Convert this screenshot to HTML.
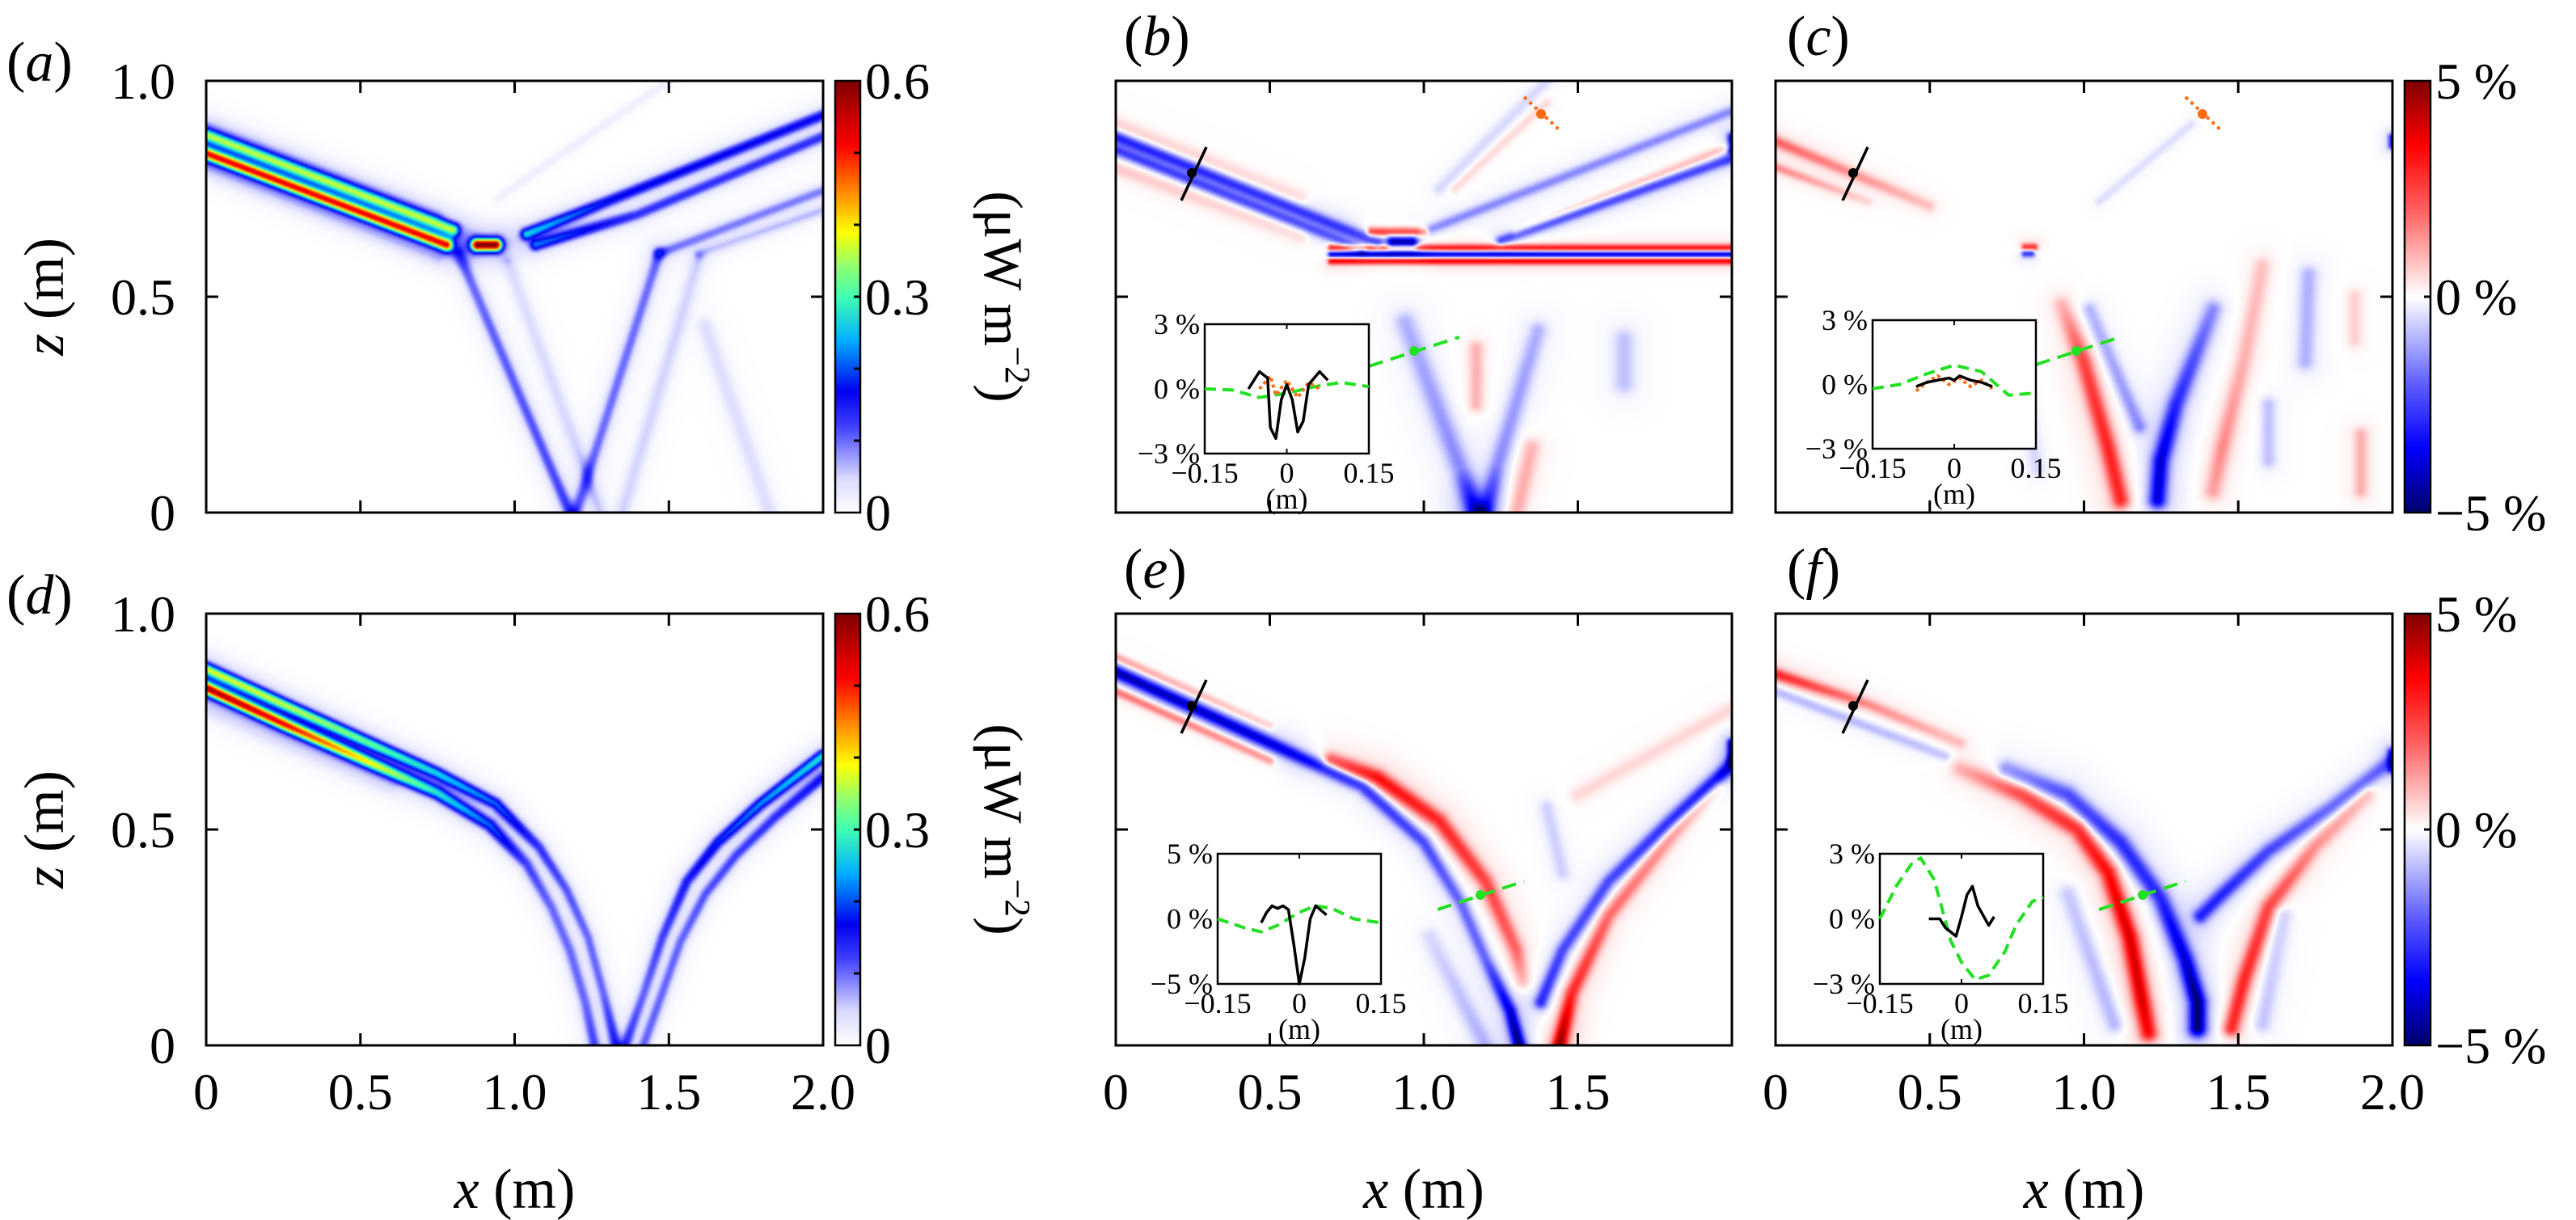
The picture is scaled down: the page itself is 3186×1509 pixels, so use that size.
<!DOCTYPE html>
<html><head><meta charset="utf-8">
<style>
html,body{margin:0;padding:0;background:#fff;}
#root{position:relative;width:3186px;height:1509px;overflow:hidden;background:#fff;}
canvas{position:absolute;}
svg{position:absolute;left:0;top:0;}
text{font-family:"Liberation Serif",serif;fill:#000;}
</style></head>
<body>
<div id="root">
<canvas id="cv-a"></canvas>
<canvas id="cv-b"></canvas>
<canvas id="cv-c"></canvas>
<canvas id="cv-d"></canvas>
<canvas id="cv-e"></canvas>
<canvas id="cv-f"></canvas>
<svg id="ov" width="3186" height="1509" xmlns="http://www.w3.org/2000/svg">
<defs>
<linearGradient id="gJet" x1="0" y1="1" x2="0" y2="0">
<stop offset="0" stop-color="#ffffff"/><stop offset="0.08" stop-color="#d8d8ff"/><stop offset="0.2" stop-color="#4040ff"/><stop offset="0.28" stop-color="#0000f0"/><stop offset="0.4" stop-color="#00b0ff"/><stop offset="0.5" stop-color="#40ffb0"/><stop offset="0.57" stop-color="#90ff70"/><stop offset="0.65" stop-color="#ffff00"/><stop offset="0.75" stop-color="#ff8000"/><stop offset="0.85" stop-color="#ff0000"/><stop offset="1" stop-color="#800000"/>
</linearGradient>
<linearGradient id="gDiv" x1="0" y1="1" x2="0" y2="0">
<stop offset="0" stop-color="#00006a"/><stop offset="0.15" stop-color="#0000ff"/><stop offset="0.3" stop-color="#6060ff"/><stop offset="0.45" stop-color="#d8d8ff"/><stop offset="0.5" stop-color="#ffffff"/><stop offset="0.55" stop-color="#ffd8d8"/><stop offset="0.7" stop-color="#ff6060"/><stop offset="0.85" stop-color="#ff0000"/><stop offset="1" stop-color="#800000"/>
</linearGradient>
</defs>
<g id="static"></g>
</svg>
</div>
<script>
// ---------- data: beam paths [x (m), z (m), value] ----------
const beamsA = [
 {w:11, p:[[0,0.875,0.33],[0.8,0.655,0.33]]},
 {w:11, p:[[0,0.832,0.5],[0.78,0.62,0.5]]},
 {w:12, p:[[0,0.90,0.03],[0.75,0.69,0.03]]},
 {w:12, p:[[0,0.80,0.03],[0.75,0.59,0.03]]},
 {w:11, p:[[0.88,0.62,0.6],[0.94,0.62,0.6]]},
 {w:10, p:[[1.04,0.645,0.25],[1.3,0.72,0.17],[2.0,0.92,0.16]]},
 {w:10, p:[[1.07,0.62,0.2],[1.4,0.69,0.13],[2.0,0.87,0.13]]},
 {w:10, p:[[1.47,0.60,0.09],[2.0,0.745,0.09]]},
 {w:9, p:[[1.6,0.60,0.05],[2.0,0.70,0.06]]},
 {w:11, p:[[0.82,0.6,0.1],[1.18,0.0,0.12]]},
 {w:12, p:[[0.98,0.58,0.04],[1.28,0.0,0.05]]},
 {w:11, p:[[1.47,0.6,0.1],[1.2,0.0,0.1]]},
 {w:12, p:[[1.6,0.59,0.05],[1.35,0.0,0.05]]},
 {w:14, p:[[1.62,0.43,0.04],[1.83,0.0,0.04]]},
 {w:8, p:[[0.95,0.73,0.02],[1.5,1.0,0.02]]}
];
const beamsD = [
 {w:10, p:[[0,0.872,0.35],[0.25,0.79,0.34],[0.53,0.70,0.3],[0.75,0.63,0.25],[0.94,0.56,0.2],[1.08,0.46,0.13],[1.17,0.36,0.11],[1.24,0.25,0.1],[1.29,0.12,0.1],[1.33,0.0,0.14]]},
 {w:11, p:[[0,0.828,0.55],[0.25,0.745,0.5],[0.53,0.655,0.38],[0.75,0.585,0.27],[0.92,0.51,0.2],[1.04,0.42,0.12],[1.12,0.32,0.1],[1.18,0.22,0.1],[1.23,0.1,0.1],[1.26,0.0,0.12]]},
 {w:10, p:[[1.36,0.0,0.12],[1.42,0.12,0.1],[1.48,0.25,0.12],[1.56,0.38,0.15],[1.66,0.47,0.18],[1.8,0.56,0.22],[2.0,0.67,0.27]]},
 {w:10, p:[[1.42,0.0,0.1],[1.48,0.12,0.1],[1.54,0.24,0.1],[1.62,0.35,0.11],[1.72,0.44,0.12],[1.85,0.53,0.13],[2.0,0.62,0.15]]},
 {w:14, p:[[0,0.78,0.02],[0.6,0.6,0.02]]}
];
const beamsB = [
 {w:8, p:[[0,0.87,-3],[0.85,0.625,-2.5]]},
 {w:7, p:[[0,0.84,-2.5],[0.8,0.61,-2]]},
 {w:10, p:[[0,0.9,0.8],[0.6,0.73,0.6]]},
 {w:10, p:[[0,0.8,0.8],[0.6,0.64,0.6]]},
 {w:5, p:[[0.7,0.613,3.5],[2.0,0.613,3.5]]},
 {w:5, p:[[0.7,0.598,-4.5],[2.0,0.598,-4.5]]},
 {w:5, p:[[0.7,0.583,4],[2.0,0.583,4]]},
 {w:9, p:[[0.9,0.625,-5],[0.96,0.625,-5]]},
 {w:6, p:[[0.83,0.65,3],[1.0,0.65,3]]},
 {w:7, p:[[1.0,0.65,-1.5],[2.0,0.93,-1.5]]},
 {w:7, p:[[1.25,0.63,-2.5],[2.0,0.82,-2.5]]},
 {w:6, p:[[1.3,0.65,1],[2.0,0.85,1]]},
 {w:6, p:[[2.0,0.87,-4],[2.0,0.84,-4]]},
 {w:14, p:[[0.94,0.44,-1],[1.12,0.1,-1.5],[1.17,0.0,-4]]},
 {w:12, p:[[1.37,0.42,-1],[1.24,0.11,-1.5],[1.2,0.0,-3]]},
 {w:10, p:[[1.17,0.38,1],[1.17,0.25,1]]},
 {w:12, p:[[1.35,0.15,1],[1.3,0.0,1.2]]},
 {w:14, p:[[1.65,0.4,-0.8],[1.65,0.3,-0.8]]},
 {w:8, p:[[1.05,0.75,-0.5],[1.4,1.0,-0.5]]},
 {w:6, p:[[1.1,0.75,0.5],[1.4,0.95,0.5]]}
];
const beamsC = [
 {w:8, p:[[0,0.86,2],[0.5,0.71,0.8]]},
 {w:6, p:[[0,0.8,1.5],[0.3,0.72,0.5]]},
 {w:5, p:[[0.81,0.6,-3],[0.83,0.6,-3]]},
 {w:5, p:[[0.81,0.615,3],[0.84,0.615,3]]},
 {w:12, p:[[0.93,0.48,1],[1.0,0.35,2.5],[1.08,0.15,3],[1.12,0.03,3]]},
 {w:12, p:[[1.42,0.47,-1.5],[1.3,0.25,-3],[1.25,0.12,-4],[1.24,0.03,-4]]},
 {w:10, p:[[1.02,0.47,-1],[1.18,0.2,-1.5]]},
 {w:12, p:[[1.58,0.57,0.8],[1.52,0.35,1],[1.45,0.15,1.5],[1.42,0.05,1.2]]},
 {w:12, p:[[1.73,0.55,-1],[1.72,0.35,-1]]},
 {w:10, p:[[1.6,0.25,-0.8],[1.6,0.12,-0.8]]},
 {w:10, p:[[1.88,0.5,0.6],[1.88,0.4,0.6]]},
 {w:10, p:[[1.9,0.18,1],[1.9,0.05,1]]},
 {w:10, p:[[0.8,0.3,-0.5],[0.85,0.1,-0.5]]},
 {w:5, p:[[2.0,0.87,-3],[2.0,0.85,-3]]},
 {w:6, p:[[1.05,0.72,-0.4],[1.35,0.9,-0.4]]}
];
const beamsE = [
 {w:9, p:[[0,0.865,-4.5],[0.5,0.70,-4],[0.8,0.6,-3],[1.0,0.47,-2.5],[1.12,0.33,-2],[1.2,0.2,-2],[1.28,0.08,-4],[1.31,0.0,-5]]},
 {w:6, p:[[0,0.9,1.5],[0.5,0.74,0.8]]},
 {w:6, p:[[0,0.82,2],[0.5,0.66,1.5]]},
 {w:11, p:[[0.7,0.66,2.5],[0.85,0.62,3.5],[1.05,0.52,3],[1.2,0.38,2.5],[1.3,0.22,2],[1.32,0.15,1]]},
 {w:9, p:[[2.0,0.65,-4],[1.8,0.52,-3],[1.6,0.38,-2.5],[1.45,0.22,-2.5],[1.38,0.1,-3]]},
 {w:10, p:[[1.95,0.6,1],[1.8,0.48,1.5],[1.6,0.3,2],[1.48,0.12,3],[1.44,0.0,5]]},
 {w:12, p:[[1.02,0.25,-0.5],[1.2,0.0,-1]]},
 {w:10, p:[[1.5,0.58,0.5],[2.0,0.78,0.5]]},
 {w:10, p:[[1.4,0.55,-0.6],[1.45,0.4,-0.6]]},
 {w:6, p:[[2.0,0.66,-5],[2.0,0.7,-5]]}
];
const beamsF = [
 {w:8, p:[[0,0.86,3],[0.3,0.79,1.5],[0.6,0.70,0.8]]},
 {w:7, p:[[0,0.82,-1],[0.55,0.67,-0.8]]},
 {w:12, p:[[0.6,0.64,1],[0.8,0.58,2.5],[0.98,0.5,3],[1.08,0.4,3.5],[1.15,0.25,4],[1.19,0.1,4],[1.21,0.03,3.5]]},
 {w:12, p:[[0.75,0.64,-1.5],[0.95,0.58,-2.5],[1.12,0.47,-3],[1.25,0.34,-3],[1.33,0.2,-4],[1.37,0.1,-5],[1.37,0.04,-5]]},
 {w:10, p:[[2.0,0.66,-2],[1.8,0.55,-2],[1.6,0.45,-2.5],[1.45,0.35,-3],[1.38,0.3,-3]]},
 {w:11, p:[[1.92,0.58,1],[1.75,0.46,1.5],[1.6,0.32,2.5],[1.52,0.15,3],[1.48,0.04,3]]},
 {w:12, p:[[0.95,0.35,-0.7],[1.1,0.05,-1]]},
 {w:12, p:[[1.65,0.3,-0.7],[1.58,0.05,-0.8]]},
 {w:6, p:[[2.0,0.68,-3],[2.0,0.64,-3]]}
];
// inset series [offset (m), value (%)]
const insetGreenB = [[-0.15,0],[-0.1,-0.05],[-0.05,-0.4],[0,-0.2],[0.05,0.1],[0.1,0.3],[0.15,0.1]];
const insetBlackB = [[-0.07,0],[-0.05,0.8],[-0.035,0.5],[-0.03,-1.8],[-0.02,-2.3],[-0.01,-0.5],[0,0.2],[0.01,-0.5],[0.02,-2.0],[0.03,-1.5],[0.04,0.2],[0.06,0.8],[0.075,0.4]];
const insetOrangeB = [[-0.05,0],[-0.03,0.6],[-0.02,-0.3],[0,0.4],[0.02,-0.4],[0.04,0.3],[0.06,0]];
const insetGreenC = [[-0.15,-0.2],[-0.1,0],[-0.05,0.5],[0,0.9],[0.05,0.6],[0.1,-0.5],[0.15,-0.4]];
const insetBlackC = [[-0.07,-0.1],[-0.05,0.1],[-0.03,0.2],[-0.01,0.3],[0,0.2],[0.01,0.4],[0.03,0.2],[0.05,0.1],[0.07,-0.1]];
const insetOrangeC = [[-0.07,-0.3],[-0.05,0.1],[-0.03,0.4],[-0.01,0],[0.01,0.3],[0.03,-0.1],[0.05,0.2],[0.07,-0.2]];
const insetGreenE = [[-0.15,0],[-0.1,-0.7],[-0.07,-1.0],[-0.04,-0.5],[0,0.5],[0.03,1.0],[0.06,0.8],[0.1,0],[0.15,-0.3]];
const insetBlackE = [[-0.07,-0.3],[-0.06,0.5],[-0.05,1.0],[-0.04,0.8],[-0.03,1.0],[-0.02,0.7],[-0.01,-2],[0,-5],[0.01,-3],[0.02,0],[0.03,1.0],[0.05,0.3]];
const insetGreenF = [[-0.15,0],[-0.12,1.5],[-0.09,2.6],[-0.075,2.8],[-0.05,1.8],[-0.02,-1],[0,-2],[0.025,-2.8],[0.05,-2.6],[0.08,-1.5],[0.1,-0.3],[0.13,0.8],[0.15,1.0]];
const insetBlackF = [[-0.06,0],[-0.04,0],[-0.03,-0.4],[-0.01,-0.8],[0,0.1],[0.01,1.1],[0.02,1.5],[0.03,0.6],[0.05,-0.3],[0.06,0.1]];
const xTickLabels = ["0","0.5","1.0","1.5","2.0"];
const zTickLabels = ["0","0.5","1.0"];

// ---------- colormaps ----------
const jetStops = [[0,[255,255,255]],[0.08,[216,216,255]],[0.2,[64,64,255]],[0.28,[0,0,240]],[0.4,[0,176,255]],[0.5,[64,255,176]],[0.57,[144,255,112]],[0.65,[255,255,0]],[0.75,[255,128,0]],[0.85,[255,0,0]],[1,[128,0,0]]];
const divStops = [[-1,[0,0,106]],[-0.7,[0,0,255]],[-0.4,[96,96,255]],[-0.1,[216,216,255]],[0,[255,255,255]],[0.1,[255,216,216]],[0.4,[255,96,96]],[0.7,[255,0,0]],[1,[128,0,0]]];
function cmap(stops,t){
  if(t<=stops[0][0]) return stops[0][1];
  for(let i=1;i<stops.length;i++){
    if(t<=stops[i][0]){const a=stops[i-1],b=stops[i];const f=(t-a[0])/(b[0]-a[0]);
      return [a[1][0]+(b[1][0]-a[1][0])*f,a[1][1]+(b[1][1]-a[1][1])*f,a[1][2]+(b[1][2]-a[1][2])*f];}
  }
  return stops[stops.length-1][1];
}
function render(id,x0,y0,W,H,beams,stops,vmax,signed,wscale){
  const cv=document.getElementById(id);
  const s=2, cw=Math.ceil(W/s), ch=Math.ceil(H/s);
  cv.width=cw; cv.height=ch;
  cv.style.left=x0+'px'; cv.style.top=y0+'px'; cv.style.width=W+'px'; cv.style.height=H+'px';
  const ctx=cv.getContext('2d'); const img=ctx.createImageData(cw,ch);
  const bs=beams.map(b=>{const w=b.w*wscale/s;return {w2:w*w, h2:9*w*w, p:b.p.map(q=>[q[0]/2*W/s,(1-q[1])*H/s,q[2]])};});
  for(let j=0;j<ch;j++){for(let i=0;i<cw;i++){
    const px=i+0.5, py=j+0.5; let v=0;
    for(const b of bs){
      let best=1e18, bv=0;
      for(let k=0;k<b.p.length-1;k++){
        const A=b.p[k],B=b.p[k+1];const dx=B[0]-A[0],dy=B[1]-A[1];const L=dx*dx+dy*dy;
        let t=L>0?((px-A[0])*dx+(py-A[1])*dy)/L:0; t=t<0?0:t>1?1:t;
        const ex=A[0]+dx*t-px, ey=A[1]+dy*t-py; const d2=ex*ex+ey*ey;
        if(d2<best){best=d2;bv=A[2]+(B[2]-A[2])*t;}
      }
      v+=bv*(0.88*Math.exp(-best/b.w2)+0.12*Math.exp(-best/b.h2));
    }
    let t=v/vmax; if(signed){t=Math.max(-1,Math.min(1,t));}else{t=Math.max(0,Math.min(1,t));}
    const c=cmap(stops,t); const o=(j*cw+i)*4;
    img.data[o]=c[0];img.data[o+1]=c[1];img.data[o+2]=c[2];img.data[o+3]=255;
  }}
  ctx.putImageData(img,0,0);
}
const P={a:[255,100,763,534],b:[1380,100,762,534],c:[2196,100,763,534],d:[255,759,763,534],e:[1380,759,762,534],f:[2196,759,763,534]};
render('cv-a',...P.a,beamsA,jetStops,0.6,false,0.72);
render('cv-d',...P.d,beamsD,jetStops,0.6,false,0.72);
render('cv-b',...P.b,beamsB,divStops,5,true,0.9);
render('cv-c',...P.c,beamsC,divStops,5,true,0.9);
render('cv-e',...P.e,beamsE,divStops,5,true,0.9);
render('cv-f',...P.f,beamsF,divStops,5,true,0.9);

// ---------- SVG overlay ----------
const NS='http://www.w3.org/2000/svg';
const G=document.getElementById('static');
function el(tag,attrs,parent,txt){const e=document.createElementNS(NS,tag);for(const k in attrs)e.setAttribute(k,attrs[k]);if(txt!==undefined)e.textContent=txt;(parent||G).appendChild(e);return e;}
function txt(x,y,s,size,anchor,extra){const t=el('text',Object.assign({x:x,y:y,'font-size':size,'text-anchor':anchor||'middle'},extra||{}),G,s);return t;}

for(const key of ['a','b','c','d','e','f']){
  const [x0,y0,W,H]=P[key];
  const g=el('g',{});
  
  
  const fr=el('rect',{x:x0,y:y0,width:W,height:H,fill:'none',stroke:'#000','stroke-width':3},g);
  
  
  for(const xv of [0.5,1,1.5]){const X=x0+xv/2*W;
    el('line',{x1:X,y1:y0,x2:X,y2:y0+15,stroke:'#000','stroke-width':3},g);
    el('line',{x1:X,y1:y0+H,x2:X,y2:y0+H-15,stroke:'#000','stroke-width':3},g);}
  const Y=y0+H/2;
  el('line',{x1:x0,y1:Y,x2:x0+15,y2:Y,stroke:'#000','stroke-width':3},g);
  el('line',{x1:x0+W,y1:Y,x2:x0+W-15,y2:Y,stroke:'#000','stroke-width':3},g);
}
// panel letters
const letters=[['a',8,100],['b',1390,68],['c',2210,68],['d',8,759],['e',1390,727],['f',2210,727]];
for(const [l,x,y] of letters){
  const t=el('text',{x:x,y:y,'font-size':70},G);
  
  
  el('tspan',{},t,'(');el('tspan',{'font-style':'italic'},t,l);el('tspan',{},t,')');
}
// y ticks labels and titles for a, d
for(const key of ['a','d']){
  const [x0,y0,W,H]=P[key];
  zTickLabels.forEach((s,i)=>{const t=txt(217,y0+H-i*H/2+22,s,64,'end');
    
    });
  const yt=el('text',{x:0,y:0,'font-size':70,'text-anchor':'middle',transform:`translate(78,${y0+H/2}) rotate(-90)`},G);
  
  
  el('tspan',{'font-style':'italic'},yt,'z');el('tspan',{},yt,' (m)');
  const cb=el('rect',{x:1033,y:y0,width:31,height:H,fill:'url(#gJet)',stroke:'#000','stroke-width':2.5},G);
  
  
  for(let k=1;k<6;k++){const yy=y0+H-k*H/6;el('line',{x1:1056,y1:yy,x2:1064,y2:yy,stroke:'#000','stroke-width':3},G);}
  ['0','0.3','0.6'].forEach((s,i)=>{const t=txt(1070,y0+H-i*H/2+22,s,64,'start');
    
    });
  const ct=el('text',{x:0,y:0,'font-size':68,'text-anchor':'middle',transform:`translate(1218,${y0+H/2}) rotate(90)`},G);
  
  
  el('tspan',{},ct,'(\u03bcW m');el('tspan',{'font-size':44,dy:-26},ct,'\u22122');el('tspan',{dy:26},ct,')');
}
// right colorbars
for(const key of ['c','f']){
  const [x0,y0,W,H]=P[key];
  const cb=el('rect',{x:2974,y:y0,width:32,height:H,fill:'url(#gDiv)',stroke:'#000','stroke-width':2.5},G);
  
  
  el('line',{x1:2998,y1:y0+H/2,x2:3006,y2:y0+H/2,stroke:'#000','stroke-width':3},G);
  ['\u22125 %','0 %','5 %'].forEach((s,i)=>{const t=txt(3012,y0+H-i*H/2+22,s,64,'start');
    
    });
}
// x tick labels + titles
for(const key of ['d','e','f']){
  const [x0,y0,W,H]=P[key];
  xTickLabels.forEach((s,i)=>{ if(key==='e'&&i===4) return;
    const t=txt(x0+i*W/4,1372,s,64,'middle');
    
    });
  const xt=el('text',{x:x0+W/2,y:1494,'font-size':70,'text-anchor':'middle'},G);
  
  
  el('tspan',{'font-style':'italic'},xt,'x');el('tspan',{},xt,' (m)');
}
// markers
function markLine(x1,y1,x2,y2,color,dash,name){const l=el('line',{x1:x1,y1:y1,x2:x2,y2:y2,stroke:color,'stroke-width':dash?4:3.5,'stroke-dasharray':dash||'none'},G);
  
  }
function dot(x,y,color,name){const c=el('circle',{cx:x,cy:y,r:6,fill:color},G);
  
  }
for(const [dx,dy] of [[0,0],[818,0],[0,659],[818,659]]){
  markLine(1461+dx,248+dy,1492+dx,182+dy,'#000',null,'section-line-black');dot(1474+dx,214+dy,'#000','section-point-black');}
for(const dx of [0,818]){
  markLine(1885+dx,120,1930+dx,162,'#ff6a10','4 5','section-line-orange');dot(1906+dx,141,'#ff6a10','section-point-orange');}
markLine(1693,453,1805,417,'#22e022','18 10','section-line-green-b');dot(1749,434,'#22e022','section-point-green');
markLine(2518,451,2622,417,'#22e022','18 10','section-line-green-c');dot(2568,434,'#22e022','section-point-green');
markLine(1778,1125,1885,1090,'#22e022','18 10','section-line-green-e');dot(1831,1107,'#22e022','section-point-green');
markLine(2596,1125,2703,1090,'#22e022','18 10','section-line-green-f');dot(2650,1107,'#22e022','section-point-green');

// insets
function inset(name,L,R,T,B,lim,series){
  const g=el('g',{});
  
  
  el('rect',{x:L,y:T,width:R-L,height:B-T,fill:'#fff',stroke:'#000','stroke-width':2.5},g);
  const ix=x=>L+(x+0.15)/0.3*(R-L), iy=v=>B-(v+lim)/(2*lim)*(B-T);
  el('line',{x1:ix(0),y1:T,x2:ix(0),y2:T+6,stroke:'#000','stroke-width':2},g);
  el('line',{x1:ix(0),y1:B,x2:ix(0),y2:B-6,stroke:'#000','stroke-width':2},g);
  for(const [arr,color,dash,w] of series){
    const pl=el('polyline',{points:arr.map(p=>ix(p[0])+','+iy(p[1])).join(' '),fill:'none',stroke:color,'stroke-width':w,'stroke-dasharray':dash||'none','stroke-linejoin':'round'},g);
    
    
  }
  [[lim,T],[0,(T+B)/2],[-lim,B]].forEach(([v,y])=>{el('text',{x:L-6,y:y+12,'font-size':36,'text-anchor':'end'},g,(v<0?'\u2212':'')+Math.abs(v)+' %');});
  [['\u22120.15',L],['0',ix(0)],['0.15',R]].forEach(([s,x])=>{el('text',{x:x,y:B+36,'font-size':36,'text-anchor':'middle'},g,s);});
  el('text',{x:ix(0),y:B+68,'font-size':36,'text-anchor':'middle'},g,'(m)');
}
inset('inset-b',1490,1693,401,561,3,[[insetGreenB,'#22e022','14 8',4],[insetOrangeB,'#ff6a10','4 4',4],[insetBlackB,'#000',null,3.5]]);
inset('inset-c',2316,2518,396,555,3,[[insetGreenC,'#22e022','14 8',4],[insetOrangeC,'#ff6a10','4 4',4],[insetBlackC,'#000',null,3.5]]);
inset('inset-e',1506,1708,1056,1217,5,[[insetGreenE,'#22e022','14 8',4],[insetBlackE,'#000',null,3.5]]);
inset('inset-f',2325,2527,1056,1217,3,[[insetGreenF,'#22e022','14 8',4],[insetBlackF,'#000',null,3.5]]);
</script>
</body></html>
